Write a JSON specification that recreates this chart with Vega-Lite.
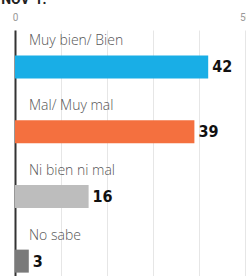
{
  "$schema": "https://vega.github.io/schema/vega-lite/v6.json",
  "autosize": "none",
  "width": 230,
  "height": 259,
  "padding": {"left": 15, "top": 30, "right": 1, "bottom": 0},
  "background": "white",
  "title": {"text": "NOV-1.", "anchor": "start", "fontSize": 14, "font": "Roboto", "fontWeight": "bold", "color": "#222", "dx": -11, "dy": 9, "offset": 0, "baseline": "bottom"},
  "data": {"values": [
    {"cat": "Muy bien/ Bien", "value": 42, "color": "#19aee6"},
    {"cat": "Mal/ Muy mal", "value": 39, "color": "#f4703f"},
    {"cat": "Ni bien ni mal", "value": 16, "color": "#bdbdbd"},
    {"cat": "No sabe", "value": 3, "color": "#7a7a7a"}
  ]},
  "encoding": {
    "y": {"field": "cat", "type": "nominal", "sort": null, "scale": {"paddingInner": 0, "paddingOuter": 0},
      "axis": {"labels": false, "ticks": false, "title": null, "domainColor": "#333", "domainWidth": 2, "grid": false}}
  },
  "layer": [
    {
      "mark": {"type": "bar", "height": 23, "yOffset": 4.5},
      "encoding": {
        "x": {"field": "value", "type": "quantitative", "scale": {"domain": [0, 50]},
          "axis": {"orient": "top", "values": [0, 10, 20, 30, 40, 50], "labelExpr": "datum.value == 0 || datum.value == 50 ? datum.label : ''", "ticks": false, "domain": false, "title": null, "gridColor": "#e6e6e6", "gridWidth": 1, "labelColor": "#999", "labelFontSize": 10, "labelFont": "Roboto", "labelPadding": 8, "labelFlush": false}},
        "color": {"field": "color", "type": "nominal", "scale": null}
      }
    },
    {
      "mark": {"type": "text", "align": "left", "dx": 4, "yOffset": 5, "fontWeight": "bold", "fontSize": 16, "font": "DejaVu Sans Condensed", "color": "#111"},
      "encoding": {
        "x": {"field": "value", "type": "quantitative"},
        "text": {"field": "value", "type": "quantitative"}
      }
    },
    {
      "mark": {"type": "text", "align": "left", "dx": 14, "yOffset": -21, "fontSize": 14, "font": "Open Sans", "fontWeight": 300, "color": "#555"},
      "encoding": {
        "x": {"datum": 0, "type": "quantitative"},
        "text": {"field": "cat", "type": "nominal"}
      }
    }
  ],
  "config": {"view": {"stroke": null}}
}
